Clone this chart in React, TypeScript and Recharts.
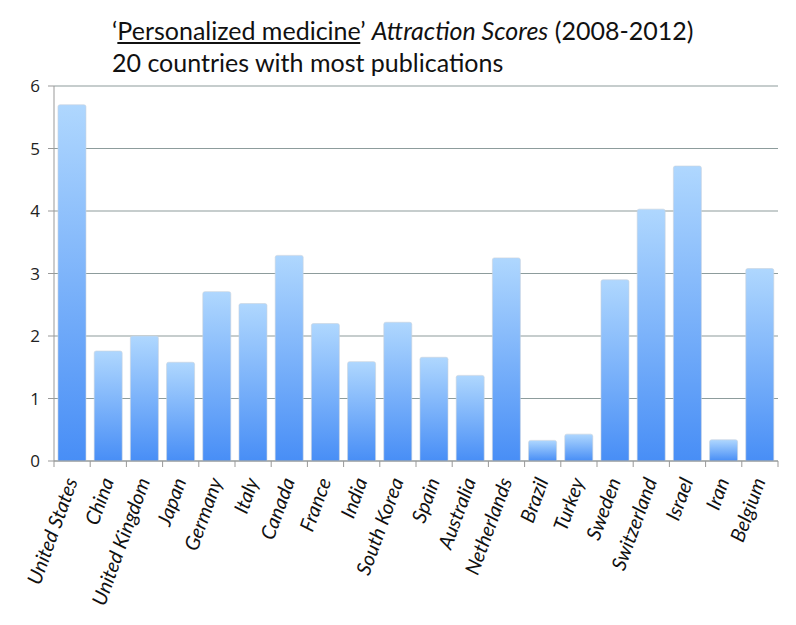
import { BarChart, Bar, XAxis, YAxis, CartesianGrid } from "recharts";

const countries = [
  "United States", "China", "United Kingdom", "Japan", "Germany", "Italy", "Canada", "France", "India", "South Korea",
  "Spain", "Australia", "Netherlands", "Brazil", "Turkey", "Sweden", "Switzerland", "Israel", "Iran", "Belgium",
];
const scores = [5.7, 1.76, 2.0, 1.58, 2.71, 2.52, 3.29, 2.2, 1.59, 2.22, 1.66, 1.37, 3.25, 0.33, 0.43, 2.9, 4.03, 4.72, 0.34, 3.08];
const yTicks = [0, 1, 2, 3, 4, 5, 6];

const data = countries.map((country, i) => ({ country, score: scores[i] }));

const W = 796;
const H = 625;
const LEFT = 54;
const RIGHT = 18;
const BAND = (W - LEFT - RIGHT) / countries.length;

function CountryTick({ x, y, payload }: any) {
  const tx = x - BAND / 2;
  return (
    <g>
      <line x1={tx} y1={y - 8} x2={tx} y2={y - 2} stroke="#999" />
      {payload.index === countries.length - 1 && (
        <line x1={tx + BAND} y1={y - 8} x2={tx + BAND} y2={y - 2} stroke="#999" />
      )}
      <text
        x={x + 6}
        y={y + 12}
        textAnchor="end"
        transform={`rotate(-70, ${x + 6}, ${y + 12})`}
        fontSize={20}
        fontStyle="italic"
        fontFamily="Lato, 'Open Sans', sans-serif"
        fill="#111"
      >
        {payload.value}
      </text>
    </g>
  );
}

function ScoreTick({ x, y, payload }: any) {
  return (
    <text x={x - 6} y={y + 6} textAnchor="end" style={{ fontSize: 17 }} fontFamily="'Open Sans', sans-serif" fill="#222">
      {payload.value}
    </text>
  );
}

export default function App() {
  return (
    <div style={{ position: "absolute", left: 0, top: 0, width: W, height: H, background: "#fff" }}>
      <div
        style={{
          position: "absolute",
          left: 112,
          top: 14,
          fontFamily: "Lato, 'Open Sans', sans-serif",
          fontSize: 25,
          lineHeight: "32px",
          color: "#111",
          whiteSpace: "nowrap",
        }}
      >
        <div>
          ‘<span style={{ textDecoration: "underline" }}>Personalized medicine</span>’ <i>Attraction Scores</i> (2008-2012)
        </div>
        <div>20 countries with most publications</div>
      </div>
      <BarChart
        width={W}
        height={H}
        data={data}
        margin={{ top: 86, right: RIGHT, bottom: 0, left: 0 }}
        barCategoryGap="11%"
      >
        <defs>
          <linearGradient id="barGrad" x1="0" y1="0" x2="0" y2="1">
            <stop offset="0%" stopColor="#afd7fe" />
            <stop offset="100%" stopColor="#488ef6" />
          </linearGradient>
        </defs>
        <CartesianGrid vertical={false} stroke="#8d9c9c" strokeWidth={1.2} />
        <XAxis
          dataKey="country"
          interval={0}
          height={164}
          tickLine={false}
          axisLine={{ stroke: "#999" }}
          tick={<CountryTick />}
        />
        <YAxis
          domain={[0, 6]}
          ticks={yTicks}
          width={LEFT}
          axisLine={{ stroke: "#999" }}
          tickLine={{ stroke: "#999" }}
          tickSize={6}
          tick={<ScoreTick />}
        />
        <Bar
          dataKey="score"
          fill="url(#barGrad)"
          stroke="#c9d3de"
          strokeWidth={0.6}
          radius={[2, 2, 0, 0]}
          isAnimationActive={false}
        />
      </BarChart>
    </div>
  );
}
